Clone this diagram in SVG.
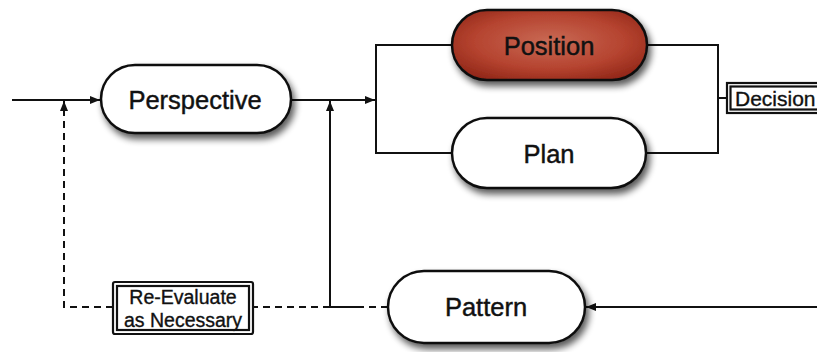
<svg xmlns="http://www.w3.org/2000/svg" width="817" height="352" viewBox="0 0 817 352">
  <defs>
    <style>
      .node { fill: #ffffff; stroke: #111111; stroke-width: 2.5; filter: url(#shadow); }
      .label { font-family: "Liberation Sans", Arial, sans-serif; font-size: 25.5px; fill: #111111; stroke: #111111; stroke-width: 0.45; text-anchor: middle; dominant-baseline: central; }
      .tag { font-family: "Liberation Sans", Arial, sans-serif; fill: #111111; stroke: #111111; stroke-width: 0.35; text-anchor: middle; }
      .line { fill: none; stroke: #111111; stroke-width: 2; }
      .dash { fill: none; stroke: #111111; stroke-width: 2; stroke-dasharray: 7 5; }
      .box { fill: #ffffff; stroke: #111111; stroke-width: 2.2; }
    </style>
    <filter id="shadow" x="-20%" y="-30%" width="150%" height="180%">
      <feGaussianBlur in="SourceAlpha" stdDeviation="3.5"/>
      <feOffset dx="3" dy="5" result="b"/>
      <feComponentTransfer><feFuncA type="linear" slope="0.65"/></feComponentTransfer>
      <feMerge><feMergeNode/><feMergeNode in="SourceGraphic"/></feMerge>
    </filter>
    <radialGradient id="red" cx="50%" cy="45%" r="65%">
      <stop offset="0" stop-color="#c96a55"/>
      <stop offset="0.6" stop-color="#b5432f"/>
      <stop offset="1" stop-color="#8e2416"/>
    </radialGradient>
    <marker id="arrow" viewBox="0 0 10 8" refX="10" refY="4" markerWidth="10" markerHeight="8" markerUnits="userSpaceOnUse" orient="auto">
      <path d="M0,0 L10,4 L0,8 Z" fill="#111111"/>
    </marker>
  </defs>

  <g id="connectors">
    <!-- input into Perspective -->
    <path class="line" d="M12,100 H100" marker-end="url(#arrow)"/>
    <!-- Perspective to the Position/Plan fork -->
    <path class="line" d="M291,100 H375" marker-end="url(#arrow)"/>
    <!-- fork -->
    <path class="line" d="M452,45 H376 V153 H452"/>
    <!-- join into Decision -->
    <path class="line" d="M647,45 H718 V153 H646"/>
    <path class="line" d="M718,98 H727"/>
    <!-- input into Pattern -->
    <path class="line" d="M817,307 H586" marker-end="url(#arrow)"/>
    <!-- Pattern back to the fork line -->
    <path class="line" d="M360,307 H330 V101" marker-end="url(#arrow)"/>
    <path class="dash" d="M388,307 H360"/>
    <!-- re-evaluation loop -->
    <path class="dash" d="M330,307 H253"/>
    <path class="dash" d="M113,307 H64 V101" marker-end="url(#arrow)"/>
  </g>

  <g id="perspective">
    <rect class="node" x="101" y="65" width="190" height="68" rx="34"/>
    <text class="label" x="195" y="100">Perspective</text>
  </g>

  <g id="position">
    <rect class="node" x="452" y="10" width="195" height="70" rx="35" style="fill:url(#red)"/>
    <text class="label" x="549" y="46">Position</text>
  </g>

  <g id="plan">
    <rect class="node" x="452" y="118" width="194" height="70" rx="35"/>
    <text class="label" x="549" y="154">Plan</text>
  </g>

  <g id="pattern">
    <rect class="node" x="388" y="271" width="197" height="72" rx="36"/>
    <text class="label" x="486" y="307">Pattern</text>
  </g>

  <g id="decision">
    <rect class="box" x="727" y="83" width="100" height="30"/>
    <rect class="box" x="730.5" y="86.5" width="100" height="23" stroke-width="1.5"/>
    <text class="tag" x="735" y="106" font-size="21" style="text-anchor:start">Decision</text>
  </g>

  <g id="re-evaluate">
    <rect class="box" x="113" y="282" width="140" height="52" rx="2"/>
    <rect class="box" x="117" y="286" width="132" height="44" stroke-width="1.5"/>
    <text class="tag" x="183" y="304" font-size="19.5">Re-Evaluate</text>
    <text class="tag" x="183" y="327" font-size="19.5">as Necessary</text>
  </g>
</svg>
